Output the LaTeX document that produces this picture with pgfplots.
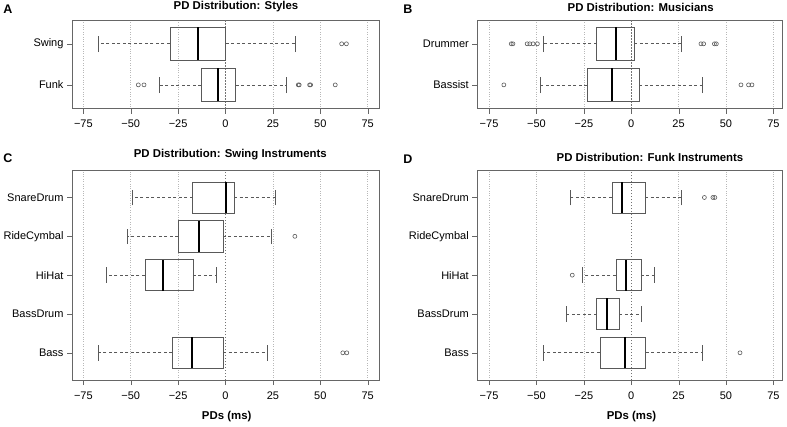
\documentclass[border=0pt]{standalone}
\usepackage{pgfplots}
\pgfplotsset{compat=1.18}
\usepgfplotslibrary{statistics}
\usepackage{fontspec}
\setmainfont{Liberation Sans}
\definecolor{frame}{gray}{0.40}
\definecolor{boxc}{gray}{0.35}
\pgfplotsset{
  boxplot/draw/whisker/.code 2 args={%
    \draw[/pgfplots/boxplot/every whisker/.try, dash pattern=on 3bp off 2.5bp] (boxplot cs:#1) -- (boxplot cs:#2);
    \draw[/pgfplots/boxplot/every whisker/.try, solid] (boxplot whisker cs:#2,0) -- (boxplot whisker cs:#2,1);
  },
}
\pgfplotsset{
  panel/.style={
    scale only axis, anchor=south west,
    xmin=-81, xmax=81,
    xtick={-75,-50,-25,25,50,75},
    xticklabels={−75,−50,−25,25,50,75},
    extra x ticks={0}, extra x tick labels={0},
    extra x tick style={grid style={dash pattern=on 1.5bp off 1.5bp, black!55, line width=0.8bp}},
    xmajorgrids, grid style={dotted, black!28, line width=0.6bp},
    tick align=outside, xtick pos=bottom, ytick pos=left,
    major tick length=5bp,
    axis line style={frame},
    tick style={frame},
    every tick label/.append style={font=\fontsize{11bp}{13bp}\selectfont},
    xticklabel style={yshift=-3bp},
    /pgf/number format/assume math mode=true,
    boxplot/draw direction=x,
    boxplot/box extend=0.8, boxplot/whisker extend=0.4,
    boxplot/every box/.style={draw=boxc, fill=none, line width=0.7bp},
    boxplot/every median/.style={black, line width=2bp},
    boxplot/every whisker/.style={boxc, line width=0.7bp},
  },
  outl/.style={only marks, mark=o, mark size=2bp, boxc, mark options={line width=0.6bp}},
}
\newcommand{\bx}[6]{\addplot[boxplot prepared={draw position=#1, lower whisker=#2, lower quartile=#3, median=#4, upper quartile=#5, upper whisker=#6}] coordinates {};}
\begin{document}
\begin{tikzpicture}[x=1bp,y=1bp]
\useasboundingbox (0,0) rectangle (787,426);
% Panel A
\begin{axis}[panel, at={(72bp,317.3bp)}, width=307bp, height=88.7bp,
  ymin=0.42, ymax=2.58, ytick={1,2}, yticklabels={Funk,Swing}]
\bx{2}{-66.9}{-29.3}{-14.5}{0}{36.8}
\bx{1}{-34.9}{-12.8}{-4.0}{5.3}{32.1}
\addplot[outl] coordinates {(61.3,2) (63.8,2)
  (-46,1) (-43,1) (38.4,1) (38.9,1) (44.4,1) (44.9,1) (57.9,1)};
\end{axis}
% Panel B
\begin{axis}[panel, at={(477.3bp,317.3bp)}, width=304.4bp, height=88.7bp,
  xmin=-81.2, xmax=79.4,
  ymin=0.42, ymax=2.58, ytick={1,2}, yticklabels={Bassist,Drummer}]
\bx{2}{-46.3}{-18.2}{-8.2}{1.6}{26.7}
\bx{1}{-48.1}{-23.3}{-10.2}{4.2}{37.7}
\addplot[outl] coordinates {(-63.3,2) (-62.4,2) (-54.9,2) (-53.5,2) (-51.8,2) (-49.5,2) (36.8,2) (38.2,2) (43.9,2) (44.9,2)
  (-67.2,1) (57.9,1) (61.9,1) (63.7,1)};
\end{axis}
% Panel C
\begin{axis}[panel, at={(72bp,46bp)}, width=307bp, height=209.7bp,
  ymin=0.3, ymax=5.7, ytick={1,2,3,4,5}, yticklabels={Bass,BassDrum,HiHat,RideCymbal,SnareDrum}]
\bx{5}{-49.1}{-17.4}{0}{4.6}{26.1}
\bx{4}{-51.8}{-25}{-14.2}{-1.4}{24.1}
\bx{3}{-63.1}{-42.5}{-33}{-17.2}{-4.9}
\bx{1}{-67.1}{-28.1}{-17.6}{-1.2}{22}
\addplot[outl] coordinates {(36.6,4) (61.9,1) (64,1)};
\end{axis}
% Panel D
\begin{axis}[panel, at={(477.3bp,46bp)}, width=304.4bp, height=209.7bp,
  xmin=-81.2, xmax=79.4,
  ymin=0.3, ymax=5.7, ytick={1,2,3,4,5}, yticklabels={Bass,BassDrum,HiHat,RideCymbal,SnareDrum}]
\bx{5}{-32.3}{-10.2}{-4.6}{7.4}{26.7}
\bx{3}{-26}{-8.1}{-3}{5.1}{12.1}
\bx{2}{-34.4}{-18.2}{-12.8}{-6.3}{5.6}
\bx{1}{-46.3}{-16.5}{-3.3}{7.7}{37.7}
\addplot[outl] coordinates {(38.6,5) (43.1,5) (44.1,5) (-31.1,3) (57.4,1)};
\end{axis}
% Titles and labels
\begin{scope}[every node/.style={inner sep=0pt}]
\node[font=\fontsize{12.5bp}{14bp}\selectfont\bfseries] at (8,417) {A};
\node[font=\fontsize{12.5bp}{14bp}\selectfont\bfseries] at (408,417) {B};
\node[font=\fontsize{12.5bp}{14bp}\selectfont\bfseries] at (8,268) {C};
\node[font=\fontsize{12.5bp}{14bp}\selectfont\bfseries] at (408,267) {D};
\node[font=\fontsize{11.4bp}{13bp}\selectfont\bfseries] at (236,419) {PD Distribution: Styles};
\node[font=\fontsize{11.4bp}{13bp}\selectfont\bfseries] at (640.7,419) {PD Distribution: Musicians};
\node[font=\fontsize{11.4bp}{13bp}\selectfont\bfseries] at (230.3,271) {PD Distribution: Swing Instruments};
\node[font=\fontsize{11.4bp}{13bp}\selectfont\bfseries] at (650,269) {PD Distribution: Funk Instruments};
\node[font=\fontsize{11.4bp}{13bp}\selectfont\bfseries] at (226.7,9) {PDs (ms)};
\node[font=\fontsize{11.4bp}{13bp}\selectfont\bfseries] at (631.5,9) {PDs (ms)};
\end{scope}
\end{tikzpicture}
\end{document}
